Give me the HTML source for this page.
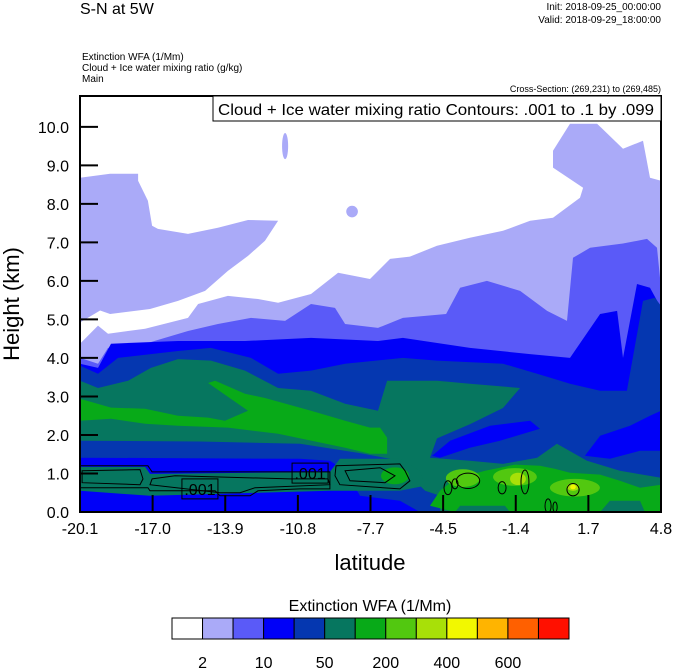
<!DOCTYPE html>
<html><head><meta charset="utf-8"><style>
html,body{margin:0;padding:0;background:#fff;}
svg{display:block;font-family:"Liberation Sans",Arial,sans-serif;}
</style></head><body>
<svg id="chart" width="674" height="668" viewBox="0 0 674 668" xmlns="http://www.w3.org/2000/svg">
<text x="80" y="14" font-size="16">S-N at 5W</text>
<text x="661" y="10" font-size="10" text-anchor="end">Init: 2018-09-25_00:00:00</text>
<text x="661" y="23" font-size="10" text-anchor="end">Valid: 2018-09-29_18:00:00</text>
<text x="82" y="60" font-size="10">Extinction WFA   (1/Mm)</text>
<text x="82" y="71" font-size="10">Cloud + Ice water mixing ratio   (g/kg)</text>
<text x="82" y="82" font-size="10">Main</text>
<text x="661" y="92" font-size="9" text-anchor="end">Cross-Section: (269,231) to (269,485)</text>
<defs><clipPath id="pc"><rect x="80" y="96" width="581" height="416"/></clipPath></defs>
<g id="field" clip-path="url(#pc)"></g>
<g id="lines" clip-path="url(#pc)"></g>
<g id="axes"></g>
<g>
<rect x="213" y="96" width="448" height="25" fill="#fff" stroke="#000" stroke-width="1"/>
<text x="218" y="115" font-size="16" textLength="436" lengthAdjust="spacingAndGlyphs">Cloud + Ice water mixing ratio Contours: .001 to .1 by .099</text>
</g>
<text transform="translate(19,304) rotate(-90)" font-size="22" text-anchor="middle">Height (km)</text>
<text x="370" y="570" font-size="22" text-anchor="middle">latitude</text>
<text x="370" y="611" font-size="16" text-anchor="middle">Extinction WFA  (1/Mm)</text>
<g id="cbar"></g>
</svg>
<script>
const levelColors=["#ffffff","#aaaaf8","#5a5af8","#0000f8","#0537b0","#06765f","#08aa18","#52c810","#a8e008","#f2f800","#ffb400","#ff6000","#ff1000"];
const cbarLabels=["2","10","50","200","400","600"];
const xTickLabels=["-20.1","-17.0","-13.9","-10.8","-7.7","-4.5","-1.4","1.7","4.8"];
const yTickLabels=["0.0","1.0","2.0","3.0","4.0","5.0","6.0","7.0","8.0","9.0","10.0"];
const latMin=-20.1, latMax=4.8, hMin=0, hMax=10.8;

const lavLat=[-20.1,-19.33,-18.9,-17.31,-15.47,-15.04,-13.76,-12.47,-11.61,-10.2,-9.04,-7.67,-6.81,-5.96,-4.8,-3.39,-1.97,-0.81,0.17,1.33,1.46,0.17,0.17,0.9,2.06,3.17,4.03,4.33,4.8];
const lavH=[4.37,4.84,4.63,4.76,5.04,5.4,5.61,5.53,5.43,5.66,6.21,6.05,6.57,6.63,6.91,7.12,7.3,7.56,7.64,8.16,8.42,8.94,9.38,10.08,10.08,9.43,9.64,8.68,8.6];
const lobeLat=[-20.1,-18.81,-17.61,-17.61,-17.19,-17.01,-16.76,-15.47,-14.19,-12.9,-11.61,-12.17,-12.9,-13.76,-14.74,-15.9,-17.1,-18.81,-19.24,-20.1];
const lobeH=[8.68,8.78,8.78,8.6,8.08,7.43,7.35,7.22,7.38,7.58,7.56,7.04,6.65,6.26,5.74,5.48,5.27,5.14,5.23,4.92];
const medLat=[-20.1,-19.33,-18.9,-17.31,-15.47,-14.19,-12.77,-11.31,-10.2,-9.17,-8.74,-7.33,-6.26,-4.41,-3.81,-2.66,-1.24,-0.08,0.77,1.03,1.76,3.17,4.2,4.63,4.8];
const medH=[4.0,3.85,4.26,4.37,4.7,4.88,5.04,4.96,5.4,5.3,4.88,4.78,5.04,5.14,5.82,6.0,5.74,5.22,4.96,6.6,6.86,6.97,7.09,6.86,5.82];
const blueLat=[-20.1,-19.33,-18.77,-15.9,-13.03,-10.2,-7.33,-6.26,-3.39,-0.81,0.9,2.19,2.92,3.17,3.77,4.33,4.8];
const blueH=[3.85,3.74,4.37,4.44,4.44,4.52,4.44,4.52,4.26,4.1,4.0,5.14,5.22,4.0,5.92,5.82,5.3];
const dkLat=[-20.1,-19.33,-18.47,-15.9,-14.49,-12.77,-11.61,-10.2,-8.74,-6.26,-4.8,-1.97,-0.51,0.9,2.19,3.34,4.03,4.54,4.8];
const dkH=[3.8,3.59,4.0,4.18,4.26,4.0,3.59,3.67,3.85,4.0,3.93,3.85,3.59,3.33,3.15,3.15,5.48,5.56,5.35];
const tealLat=[-20.1,-19.33,-18.04,-17.06,-15.9,-14.49,-13.03,-11.61,-10.2,-8.74,-7.33,-6.94,-4.8,-3.39,-1.24,-1.97,-3.39,-4.8,-5.1,-3.39,-1.97,-0.51,0.34,1.63,3.04,4.8];
const tealH=[3.41,3.22,3.41,3.74,3.97,3.93,3.67,3.22,3.15,2.81,2.63,3.41,3.41,3.33,3.22,2.7,2.28,1.91,1.41,1.33,1.25,1.41,1.77,1.33,1.07,0.89];
const grnLat=[-20.1,-18.77,-17.31,-15.9,-14.61,-13.89,-12.9,-14.61,-14.31,-13.03,-12.17,-10.2,-8.74,-7.67,-7.24,-6.94,-6.94,-7.67,-8.74,-11.61,-13.76,-15.9,-17.31,-18.77,-20.1];
const grnH=[2.94,2.71,2.68,2.5,2.45,2.37,2.63,3.35,3.41,3.07,2.96,2.63,2.37,2.19,2.19,1.93,1.51,1.51,1.67,2.03,2.19,2.24,2.29,2.42,2.37];
const streak1Lat=[-5.01,-4.24,-2.53,-0.81,-0.39,-2.1,-3.39,-4.67];
const streak1H=[1.46,1.85,2.24,2.37,2.16,1.85,1.67,1.41];
const streak2Lat=[1.54,2.19,3.47,4.33,4.8,4.8,3.9,2.61];
const streak2H=[1.46,1.98,2.24,2.5,2.63,1.59,1.59,1.38];
const lowDkLat=[-20.1,-14.96,-10.67,-8.1,-6.81,-5.96,-5.31,-4.67,-4.67,-20.1];
const lowDkH=[1.85,1.83,1.77,1.53,1.38,0.94,0.55,0.42,0,0];
const lowBlueLat=[-20.1,-10.67,-9.39,-8.74,-8.1,-6.39,-5.53,-5.53,-20.1];
const lowBlueH=[1.41,1.38,1.33,1.07,0.42,0.29,0,0,0];
const stripLat=[-20.1,-17.31,-17.1,-9.39,-8.96,-6.39,-5.53,-5.31,-6.39,-9.39,-17.1,-20.1];
const stripH=[1.17,1.17,0.99,1.04,1.38,1.38,1.07,0.68,0.55,0.55,0.42,0.55];
const grnRLat=[-5.1,-4.67,-4.03,-2.74,-1.46,-0.39,0.26,0.9,2.19,3.04,3.9,4.8,4.8,4.11,3.9,2.61,2.19,-1.67,-1.89,-3.81,-4.03];
const grnRH=[0.16,0.55,0.86,1.07,1.23,1.2,1.12,1.02,0.97,0.81,0.63,0.71,0,0,0.29,0.29,0,0,0.16,0.16,0];
const patchLat=[-6.6,-3.69,-1.46,1.11,-1.33,1.03,-11.31,-8.44,-4.84,1.03];
const patchH=[0.94,0.88,0.91,0.63,0.86,0.65,9.5,7.8,5.93,0.65];
const patchRLat=[0.6,0.73,0.94,1.07,0.34,0.26,0.13,0.25,0.17,0.12];
const patchRH=[0.22,0.23,0.23,0.23,0.16,0.1,0.34,0.15,0.31,0.06];
const patchLevel=[6,7,7,7,8,8,1,1,1,9];

const c1Lat=[-20.1,-17.19,-17.01,-9.39,-9.39,-10.67,-12.47,-12.81,-14.1,-14.31,-17.1,-17.19,-20.1];
const c1H=[1.2,1.2,1.04,1.04,0.6,0.6,0.55,0.42,0.42,0.55,0.55,0.63,0.63];
const c2Lat=[-20.01,-17.53,-17.4,-17.53,-20.01];
const c2H=[1.07,1.1,0.86,0.71,0.76];
const c3Lat=[-17.01,-16.03,-11.1,-9.47,-9.39,-12.6,-13.24,-14.1,-17.1];
const c3H=[0.86,0.94,0.86,0.86,0.71,0.63,0.5,0.5,0.71];
const c4Lat=[-9.13,-6.39,-6.17,-5.96,-6.39,-8.96,-9.17];
const c4H=[1.2,1.25,1.07,0.81,0.6,0.71,0.94];
const c5Lat=[-8.74,-7.24,-6.6,-7.03,-8.53];
const c5H=[1.07,1.15,0.94,0.76,0.81];
const ringLat=[-4.33,-4.03,-3.47,-2.01,-1.03,-0.04,0.26,1.03];
const ringH=[0.63,0.73,0.81,0.63,0.78,0.16,0.13,0.58];
const ringRLat=[0.17,0.13,0.5,0.17,0.17,0.13,0.09,0.26];
const ringRH=[0.18,0.13,0.2,0.16,0.31,0.18,0.13,0.16];
const labelLat=[-10.24,-14.96];
const labelH=[1.01,0.6];
const labelText=[".001",".001"];

const PL=80,PR=661,PT=96,PB=512;
function X(lat){return PL+(lat-latMin)/(latMax-latMin)*(PR-PL);}
function Y(h){return PB-(h-hMin)/(hMax-hMin)*(PB-PT);}
const NS="http://www.w3.org/2000/svg";
const field=document.getElementById('field');
const lines=document.getElementById('lines');
const axes=document.getElementById('axes');
function pts(la,ha){return la.map((v,i)=>X(v).toFixed(1)+","+Y(ha[i]).toFixed(1)).join(" ");}
function region(parent,la,ha,color,name,toBottom){
  const p=document.createElementNS(NS,'polygon');
  let s=pts(la,ha);
  if(toBottom){s+=" "+X(la[la.length-1]).toFixed(1)+","+Y(0)+" "+X(la[0]).toFixed(1)+","+Y(0);}
  p.setAttribute('points',s);
  p.setAttribute('fill',color);
  
  
  parent.appendChild(p);
}
region(field,lavLat,lavH,levelColors[1],'level-2-region',true);
region(field,lobeLat,lobeH,levelColors[1],'upper-level-2-lobe',false);
region(field,medLat,medH,levelColors[2],'level-10-region',true);
region(field,blueLat,blueH,levelColors[3],'level-20-region',true);
region(field,dkLat,dkH,levelColors[4],'level-50-region',true);
region(field,tealLat,tealH,levelColors[5],'level-100-region',true);
region(field,grnLat,grnH,levelColors[6],'level-200-band',false);
region(field,streak1Lat,streak1H,levelColors[3],'low-streak-1',false);
region(field,streak2Lat,streak2H,levelColors[3],'low-streak-2',false);
region(field,lowDkLat,lowDkH,levelColors[4],'surface-level-50',false);
region(field,lowBlueLat,lowBlueH,levelColors[3],'surface-level-20',false);
region(field,stripLat,stripH,levelColors[5],'surface-level-100-strip',false);
region(field,grnRLat,grnRH,levelColors[6],'surface-level-200-right',false);
const kx=(PR-PL)/(latMax-latMin), ky=(PB-PT)/(hMax-hMin);
patchLat.forEach((v,i)=>{
  const e=document.createElementNS(NS,'ellipse');
  e.setAttribute('cx',X(v));e.setAttribute('cy',Y(patchH[i]));
  e.setAttribute('rx',patchRLat[i]*kx);e.setAttribute('ry',patchRH[i]*ky);
  e.setAttribute('fill',levelColors[patchLevel[i]]);
  
  
  field.appendChild(e);
});
function cline(la,ha){
  const p=document.createElementNS(NS,'polygon');
  p.setAttribute('points',pts(la,ha));
  p.setAttribute('fill','none');p.setAttribute('stroke','#000');p.setAttribute('stroke-width','1');
  
  
  lines.appendChild(p);
}
cline(c1Lat,c1H);cline(c2Lat,c2H);cline(c3Lat,c3H);cline(c4Lat,c4H);cline(c5Lat,c5H);
ringLat.forEach((v,i)=>{
  const e=document.createElementNS(NS,'ellipse');
  e.setAttribute('cx',X(v));e.setAttribute('cy',Y(ringH[i]));
  e.setAttribute('rx',ringRLat[i]*kx);e.setAttribute('ry',ringRH[i]*ky);
  e.setAttribute('fill','none');e.setAttribute('stroke','#000');e.setAttribute('stroke-width','1');
  
  
  lines.appendChild(e);
});
labelLat.forEach((v,i)=>{
  const g=document.createElementNS(NS,'g');
  
  
  const cx=X(v),cy=Y(labelH[i]);
  const r=document.createElementNS(NS,'rect');
  r.setAttribute('x',cx-18);r.setAttribute('y',cy-10);r.setAttribute('width',36);r.setAttribute('height',20);
  r.setAttribute('fill','none');r.setAttribute('stroke','#000');
  const t=document.createElementNS(NS,'text');
  t.setAttribute('x',cx);t.setAttribute('y',cy+6);t.setAttribute('font-size','16');t.setAttribute('text-anchor','middle');
  t.textContent=labelText[i];
  g.appendChild(r);g.appendChild(t);lines.appendChild(g);
});
// axes
const fr=document.createElementNS(NS,'rect');
fr.setAttribute('x',PL);fr.setAttribute('y',PT);fr.setAttribute('width',PR-PL);fr.setAttribute('height',PB-PT);
fr.setAttribute('fill','none');fr.setAttribute('stroke','#000');fr.setAttribute('stroke-width','2');


axes.appendChild(fr);
yTickLabels.forEach((lab,i)=>{
  const y=Y(parseFloat(lab));
  const l=document.createElementNS(NS,'line');
  l.setAttribute('x1',PL);l.setAttribute('x2',PL+18);l.setAttribute('y1',y);l.setAttribute('y2',y);
  l.setAttribute('stroke','#000');l.setAttribute('stroke-width','2');
  
  
  axes.appendChild(l);
  const t=document.createElementNS(NS,'text');
  t.setAttribute('x',69);t.setAttribute('y',y+6);t.setAttribute('font-size','16');t.setAttribute('text-anchor','end');
  t.textContent=lab;
  
  
  axes.appendChild(t);
});
xTickLabels.forEach((lab,i)=>{
  const x=PL+i*(PR-PL)/(xTickLabels.length-1);
  const l=document.createElementNS(NS,'line');
  l.setAttribute('x1',x);l.setAttribute('x2',x);l.setAttribute('y1',PB);l.setAttribute('y2',PB-17);
  l.setAttribute('stroke','#000');l.setAttribute('stroke-width','2');
  
  
  axes.appendChild(l);
  const t=document.createElementNS(NS,'text');
  t.setAttribute('x',x);t.setAttribute('y',534);t.setAttribute('font-size','16');t.setAttribute('text-anchor','middle');
  t.textContent=lab;
  
  
  axes.appendChild(t);
});
// colorbar
const cb=document.getElementById('cbar');
const CBX=172, CBW=397/levelColors.length, CBY=618, CBH=21;
levelColors.forEach((c,i)=>{
  const r=document.createElementNS(NS,'rect');
  r.setAttribute('x',CBX+i*CBW);r.setAttribute('y',CBY);r.setAttribute('width',CBW);r.setAttribute('height',CBH);
  r.setAttribute('fill',c);r.setAttribute('stroke','#000');r.setAttribute('stroke-width','1');
  
  
  cb.appendChild(r);
});
cbarLabels.forEach((lab,i)=>{
  const t=document.createElementNS(NS,'text');
  t.setAttribute('x',CBX+(1+2*i)*CBW);t.setAttribute('y',668);t.setAttribute('font-size','16');t.setAttribute('text-anchor','middle');
  t.textContent=lab;
  
  
  cb.appendChild(t);
});
</script>
</body></html>
